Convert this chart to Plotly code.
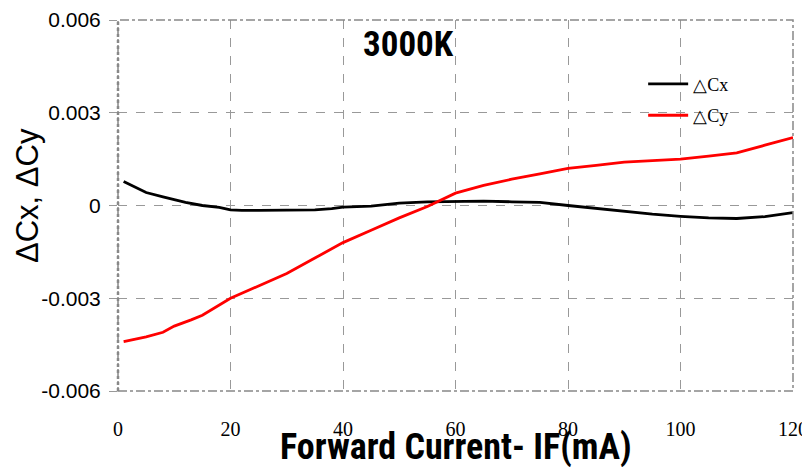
import plotly.graph_objects as go

# Data
cx_current = [1, 3, 5, 8, 10, 12, 15, 18, 20, 22, 25, 30, 35, 38, 40, 45, 50, 55, 60, 65,
              70, 75, 80, 85, 90, 95, 100, 105, 110, 115, 120]
cx_values = [0.00078, 0.0006, 0.00042, 0.00028, 0.00018, 0.0001, 0.0, -0.00006, -0.00014,
             -0.00016, -0.00016, -0.00016, -0.00014, -0.0001, -0.00005, -0.00002, 0.00008,
             0.00012, 0.00014, 0.00014, 0.00012, 0.0001, 0.0, -0.0001, -0.0002, -0.00028,
             -0.00035, -0.0004, -0.00042, -0.00036, -0.00023]

cy_current = [1, 5, 8, 10, 13, 15, 20, 25, 30, 35, 40, 45, 50, 55, 60, 65, 70, 75, 80, 85,
              90, 95, 100, 105, 110, 115, 120]
cy_values = [-0.0044, -0.00425, -0.0041, -0.0039, -0.0037, -0.00355, -0.003, -0.0026, -0.0022,
             -0.0017, -0.0012, -0.0008, -0.0004, -0.00003, 0.0004, 0.00065, 0.00085, 0.00102,
             0.0012, 0.0013, 0.0014, 0.00145, 0.0015, 0.0016, 0.0017, 0.00195, 0.0022]

x_ticks = [0, 20, 40, 60, 80, 100, 120]
y_ticks = [-0.006, -0.003, 0, 0.003, 0.006]
y_tick_labels = ["-0.006", "-0.003", "0", "0.003", "0.006"]

fig = go.Figure()
fig.add_trace(go.Scatter(x=cx_current, y=cx_values, mode="lines", name="△Cx", legendgroup="cx",
                         line=dict(color="black", width=2.8)))
fig.add_trace(go.Scatter(x=cy_current, y=cy_values, mode="lines", name="△Cy", legendgroup="cy",
                         line=dict(color="#ff0000", width=2.8)))

fig.update_layout(
    width=802, height=459,
    margin=dict(l=110, r=17, t=12, b=76),
    plot_bgcolor="white", paper_bgcolor="white",
    showlegend=True,
    legend=dict(x=0.778, y=0.877, xanchor="left", yanchor="top",
                bgcolor="rgba(0,0,0,0)",
                font=dict(family="Liberation Serif, Times New Roman, serif", size=18, color="black"),
                tracegroupgap=5, itemwidth=40),
    xaxis=dict(range=[0, 120], tickvals=x_ticks, ticktext=[str(v) for v in x_ticks],
               automargin=False,
               showgrid=True, gridcolor="#999999", griddash="dash", gridwidth=1,
               zeroline=False, showline=False, ticks="",
               ticklabelstandoff=24,
               tickfont=dict(family="Liberation Serif, Times New Roman, serif", size=20, color="black")),
    yaxis=dict(range=[-0.006, 0.006], tickvals=y_ticks, ticktext=y_tick_labels,
               automargin=False,
               showgrid=True, gridcolor="#999999", griddash="dash", gridwidth=1,
               zeroline=False, showline=False, ticks="outside", ticklen=8, tickcolor="#999999",
               ticklabelstandoff=4,
               tickfont=dict(family="Liberation Sans, Arial, sans-serif", size=21, color="black")),
    shapes=[
        dict(type="rect", xref="paper", yref="paper", x0=0, y0=0, x1=1, y1=1,
             line=dict(color="#888888", width=1.5, dash="dashdot"), layer="above"),
        dict(type="line", xref="paper", yref="paper", x0=0, y0=0, x1=0, y1=1,
             line=dict(color="#888888", width=2.5, dash="dot"), layer="above"),
    ],
    annotations=[
        dict(text="<b>3000K</b>", xref="paper", yref="paper", x=0.431, y=0.933,
             xanchor="center", yanchor="middle", showarrow=False,
             font=dict(family="Liberation Sans Narrow, Roboto Condensed, Liberation Sans, sans-serif",
                       size=35, color="black")),
        dict(text="<b>Forward Current- IF(mA)</b>", xref="paper", yref="paper", x=0.5, y=-0.15,
             xanchor="center", yanchor="middle", showarrow=False,
             font=dict(family="Liberation Sans Narrow, Roboto Condensed, Liberation Sans, sans-serif",
                       size=36, color="black")),
        dict(text="ΔCx, ΔCy", xref="paper", yref="paper", x=-0.135, y=0.528,
             xanchor="center", yanchor="middle", showarrow=False, textangle=-90,
             font=dict(family="Liberation Sans, Arial, sans-serif", size=31, color="black")),
    ],
)

fig.write_html("out.html")
